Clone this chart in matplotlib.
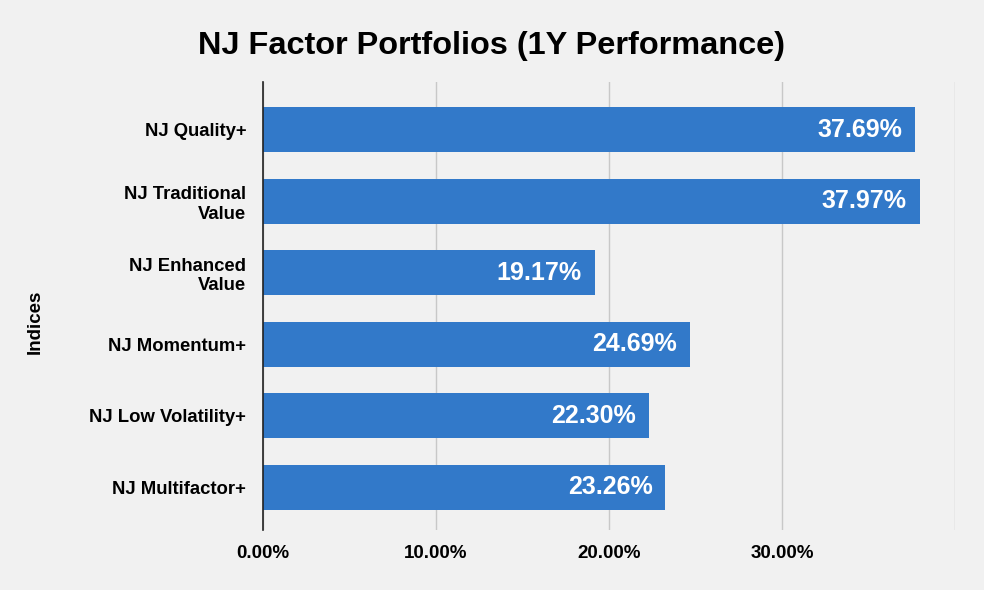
import matplotlib.pyplot as plt
import matplotlib as mpl

plt.rcParams['font.family'] = ['Liberation Sans', 'DejaVu Sans']

indices = ["NJ Quality+", "NJ Traditional\nValue", "NJ Enhanced\nValue",
           "NJ Momentum+", "NJ Low Volatility+", "NJ Multifactor+"]
returns = [37.69, 37.97, 19.17, 24.69, 22.30, 23.26]
xticks = [0, 10, 20, 30, 40]
xtick_labels = ["0.00%", "10.00%", "20.00%", "30.00%", ""]

bg = '#f1f1f1'
bar_color = '#3279c9'

fig = plt.figure(figsize=(9.84, 5.9), dpi=100, facecolor=bg)
ax = fig.add_axes([0.2673, 0.1017, 0.7033, 0.7593])
ax.set_facecolor(bg)

pos = list(range(len(indices)))
ax.barh(pos, returns, height=0.63, color=bar_color, zorder=3)

for p, v in zip(pos, returns):
    ax.text(v - 0.75, p, f"{v:.2f}%", ha='right', va='center',
            color='white', fontsize=18, fontweight='bold', zorder=4)

ax.set_xlim(0, 40)
ax.set_ylim(5.6, -0.67)
ax.set_xticks(xticks)
ax.set_xticklabels(xtick_labels, fontsize=13.5, fontweight='bold')
ax.set_yticks(pos)
ax.set_yticklabels(indices, fontsize=13.3, fontweight='bold')
ax.tick_params(axis='y', length=0, pad=12)
ax.tick_params(axis='x', length=0, pad=11)

ax.grid(axis='x', color='#c8c8c8', linewidth=1, zorder=0)
for s in ['top', 'right', 'bottom']:
    ax.spines[s].set_visible(False)
ax.spines['left'].set_color('#222222')
ax.spines['left'].set_linewidth(1.2)
ax.spines['left'].set_zorder(5)

ax.set_ylabel("Indices", fontsize=13.5, fontweight='bold')
ax.yaxis.set_label_coords(-0.317, 0.464)
fig.text(0.5, 0.922, "NJ Factor Portfolios (1Y Performance)", ha='center',
         va='center', fontsize=23.4, fontweight='bold')

plt.savefig('out.png', dpi=100, facecolor=bg)
